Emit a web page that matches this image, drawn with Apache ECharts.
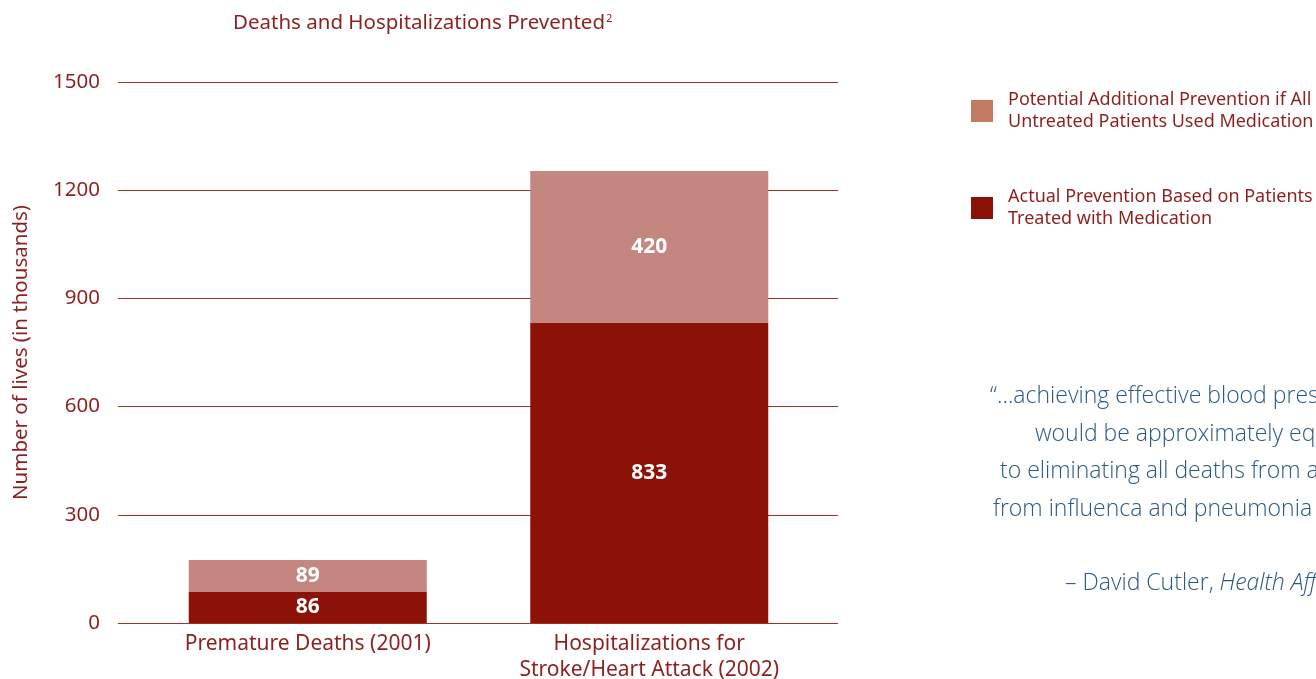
<!DOCTYPE html>
<html>
<head>
<meta charset="utf-8">
<script src="https://cdn.jsdelivr.net/npm/echarts@6/dist/echarts.min.js"></script>
<style>
html,body{margin:0;padding:0;background:#fff;}
#main{width:1316px;height:679px;}
</style>
</head>
<body>
<div id="main"></div>
<script>
var categories = ['Premature Deaths (2001)', 'Hospitalizations for\nStroke/Heart Attack (2002)'];
var actualValues = [86, 833];
var potentialValues = [89, 420];
var yTicks = [0, 300, 600, 900, 1200, 1500];
var seriesNames = ['Potential Additional Prevention if All Untreated Patients Used Medication', 'Actual Prevention Based on Patients Treated with Medication'];
var legendLabels = {};
legendLabels[seriesNames[0]] = 'Potential Additional Prevention if All\nUntreated Patients Used Medication';
legendLabels[seriesNames[1]] = 'Actual Prevention Based on Patients\nTreated with Medication';
var quoteLines = [
  '\u201c\u2026achieving effective blood pressure control',
  'would be approximately equivalent',
  'to eliminating all deaths from accidents and',
  'from influenca and pneumonia combined.\u201d'
];
var quoteStarts = [990, 1035, 1000, 993];

var RED = '#8E1F1F';
var DARK = '#8C1107';
var LIGHT = '#C4877F';
var FONT = '"Noto Sans", "Open Sans", sans-serif';
var QFONT = '"Open Sans", "Noto Sans", sans-serif';
var QCOL = '#2B5882';

var chart = echarts.init(document.getElementById('main'));

var graphics = [];
quoteLines.forEach(function (t, i) {
  graphics.push({
    type: 'text', left: quoteStarts[i], top: 385 + i * 37.5,
    style: { text: t, font: '300 23px ' + QFONT, fill: QCOL }
  });
});
graphics.push({
  type: 'text', left: 1065, top: 572,
  style: {
    text: '{a|\u2013 David Cutler, }{b|Health Affairs}',
    rich: {
      a: { font: '300 23px ' + QFONT, fill: QCOL },
      b: { font: 'italic 300 23px ' + QFONT, fill: QCOL }
    }
  }
});

chart.setOption({
  animation: false,
  textStyle: { fontFamily: FONT },
  title: {
    left: 228, top: 8,
    text: '{a|Deaths and Hospitalizations Prevented}{s|2}',
    textStyle: {
      fontWeight: 'normal',
      rich: {
        a: { fontSize: 20.5, color: RED, fontFamily: FONT, fontWeight: 'normal' },
        s: { fontSize: 11, color: RED, fontFamily: FONT, fontWeight: 'normal', verticalAlign: 'top', padding: [0, 0, 9, 1] }
      }
    }
  },
  legend: {
    orient: 'vertical', left: 971, top: 86, itemGap: 47, padding: 0,
    itemWidth: 22, itemHeight: 22, icon: 'rect',
    data: [
      { name: seriesNames[0], itemStyle: { color: '#C27B62' } },
      { name: seriesNames[1], itemStyle: { color: DARK } }
    ],
    formatter: function (n) { return legendLabels[n]; },
    textStyle: { color: RED, fontSize: 18, lineHeight: 22, fontFamily: FONT, padding: [6, 0, 0, 10] }
  },
  grid: [
    { left: 118, right: 478, top: 82, bottom: 56, outerBoundsMode: 'none' },
    { left: 137, right: 496, top: 82, bottom: 56, outerBoundsMode: 'none' }
  ],
  xAxis: [
    { type: 'category', gridIndex: 0, data: categories, show: false },
    {
      type: 'category', gridIndex: 1, data: categories,
      axisLine: { show: false }, axisTick: { show: false },
      axisLabel: { color: RED, fontSize: 21, lineHeight: 26, margin: 8, fontFamily: FONT, interval: 0 }
    }
  ],
  yAxis: [
    {
      type: 'value', gridIndex: 0, min: yTicks[0], max: yTicks[yTicks.length - 1], interval: 300,
      name: 'Number of lives (in thousands)', nameLocation: 'middle', nameGap: 86, nameRotate: 90,
      nameTextStyle: { color: RED, fontSize: 20.5, fontFamily: FONT },
      axisLine: { show: false }, axisTick: { show: false },
      axisLabel: { color: RED, fontSize: 20.5, margin: 18, fontFamily: FONT, formatter: function (v) { return String(v); } },
      splitLine: { show: true, lineStyle: { color: '#A3302B', width: 1 } }
    },
    { type: 'value', gridIndex: 1, min: 0, max: 1500, show: false, splitLine: { show: false } }
  ],
  graphic: graphics,
  series: [
    {
      name: seriesNames[1], type: 'bar', stack: 'a', xAxisIndex: 1, yAxisIndex: 1,
      data: actualValues, barWidth: 238,
      itemStyle: { color: DARK },
      label: { show: true, position: 'inside', color: '#fff', fontSize: 21, fontWeight: 'bold', fontFamily: FONT }
    },
    {
      name: seriesNames[0], type: 'bar', stack: 'a', xAxisIndex: 1, yAxisIndex: 1,
      data: potentialValues, barWidth: 238,
      itemStyle: { color: LIGHT },
      label: { show: true, position: 'inside', color: '#fff', fontSize: 21, fontWeight: 'bold', fontFamily: FONT }
    }
  ]
});
</script>
</body>
</html>
